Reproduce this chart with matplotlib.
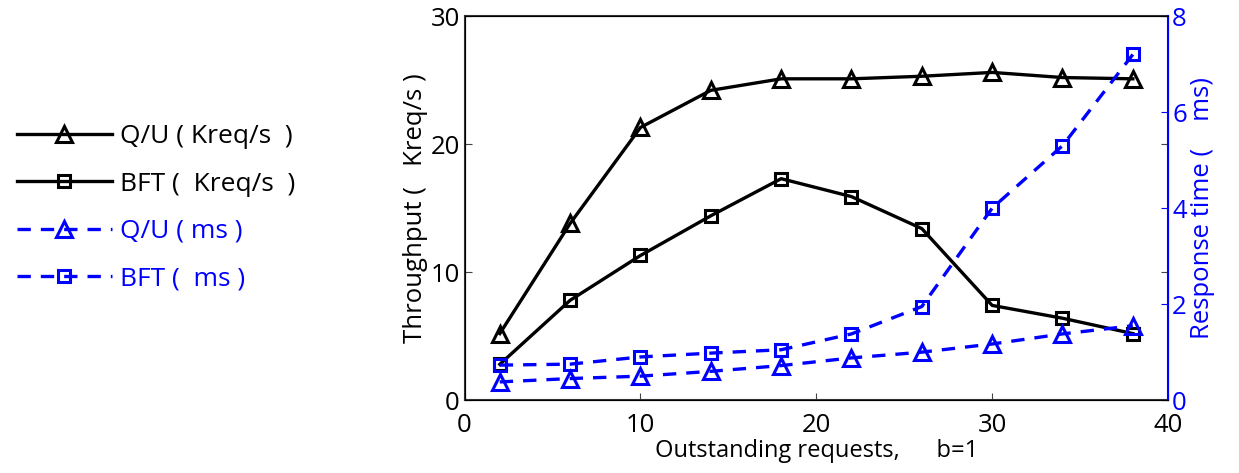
import numpy as np
import matplotlib.pyplot as plt
from matplotlib.lines import Line2D

plt.rcParams['font.family'] = ['Open Sans', 'DejaVu Sans']

# outstanding requests
reqs = [2, 6, 10, 14, 18, 22, 26, 30, 34, 38]

# throughput (Kreq/s)
qu_tput = [5.2, 13.8, 21.3, 24.2, 25.1, 25.1, 25.3, 25.6, 25.2, 25.1]
bft_tput = [2.8, 7.8, 11.3, 14.4, 17.3, 15.9, 13.4, 7.4, 6.4, 5.2]

# response time (ms)
qu_ms = [0.38, 0.45, 0.5, 0.6, 0.72, 0.88, 1.0, 1.17, 1.38, 1.55]
bft_ms = [0.73, 0.75, 0.9, 0.98, 1.05, 1.38, 1.95, 4.0, 5.3, 7.2]

BLUE = '#0000ff'
FS = 18.5

fig = plt.figure(figsize=(12.39, 4.73), dpi=100)
ax = fig.add_axes([0.375, 0.154, 0.5677, 0.812])
ax2 = ax.twinx()

l1, = ax.plot(reqs, qu_tput, '-', color='black', lw=2.4, marker='^', ms=12,
              mfc='none', mew=2.2)
l2, = ax.plot(reqs, bft_tput, '-', color='black', lw=2.4, marker='s', ms=8,
              mfc='none', mew=2.2)
l3, = ax2.plot(reqs, qu_ms, '--', color=BLUE, lw=2.4, marker='^', ms=12,
               mfc='none', mew=2.2, dashes=(4, 3))
l4, = ax2.plot(reqs, bft_ms, '--', color=BLUE, lw=2.4, marker='s', ms=8,
               mfc='none', mew=2.2, dashes=(4, 3))

ax.set_xlim(0, 40)
ax.set_ylim(0, 30)
ax2.set_ylim(0, 8)
ax.set_xticks([0, 10, 20, 30, 40])
ax.set_yticks([0, 10, 20, 30])
ax2.set_yticks([0, 2, 4, 6, 8])

ax.tick_params(direction='in', labelsize=FS, length=5, top=False, right=True,
               color='#444444')
ax.tick_params(axis='x', pad=9)
ax2.tick_params(direction='in', labelsize=FS, length=5, colors=BLUE, pad=3)
ax2.spines['right'].set_color(BLUE)
for s in ['left', 'bottom', 'top']:
    ax.spines[s].set_color('#333333')
    ax.spines[s].set_linewidth(1.5)
ax2.spines['right'].set_linewidth(1.5)

ax.set_xlabel('Outstanding requests,      b=1', fontsize=17, labelpad=1)
ax.set_ylabel('Throughput (   Kreq/s )', fontsize=FS, labelpad=2)
ax2.set_ylabel('Response time (    ms)', fontsize=FS, color=BLUE, labelpad=2)

handles = [l1, l2, l3, l4]
labels = ['Q/U ( Kreq/s  )', 'BFT (  Kreq/s  )', 'Q/U ( ms )', 'BFT (  ms )']
leg = fig.legend(handles, labels, loc='upper left', bbox_to_anchor=(0.005, 0.76),
                 frameon=False, fontsize=19, handlelength=3.6,
                 labelspacing=0.85, handletextpad=0.3, borderaxespad=0)
for t, c in zip(leg.get_texts(), ['black', 'black', BLUE, BLUE]):
    t.set_color(c)

fig.savefig('out.png', dpi=100)
